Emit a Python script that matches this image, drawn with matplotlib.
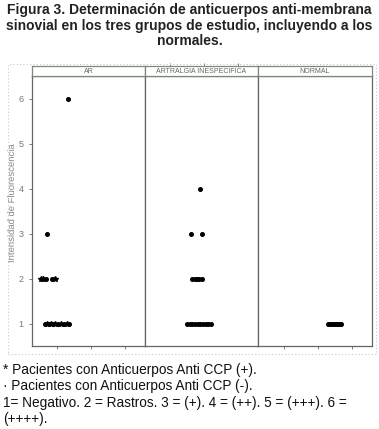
import numpy as np
import matplotlib.pyplot as plt
from matplotlib.patches import Rectangle

W, H = 379, 429

# grupos (paneles)
groups = ["AR", "ARTRALGIA INESPECIFICA", "NORMAL"]

# AR
ar_x = [1.32, 0.69, 0.52, 0.58, 0.67, 0.84, 0.93,
        0.64, 0.70, 0.76, 0.82, 0.88, 0.94, 1.03, 1.12, 1.21, 1.29, 1.35]
ar_y = [6, 3, 2, 2, 2, 2, 2,
        1, 1, 1, 1, 1, 1, 1, 1, 1, 1, 1]
ar_ccp = ["-", "-", "+", "+", "-", "-", "+",
          "-", "+", "-", "+", "-", "+", "-", "+", "-", "+", "-"]

# Artralgia inespecifica
art_x = [1.88, 1.61, 1.94, 1.64, 1.73, 1.79, 1.85, 1.94,
         1.49, 1.57, 1.65, 1.73, 1.81, 1.89, 1.97, 2.05, 2.13, 2.20]
art_y = [4, 3, 3, 2, 2, 2, 2, 2,
         1, 1, 1, 1, 1, 1, 1, 1, 1, 1]
art_ccp = ["-"] * len(art_x)

# Normales
nor_x = [2.30, 2.36, 2.42, 2.48, 2.54, 2.60, 2.65, 2.68]
nor_y = [1, 1, 1, 1, 1, 1, 1, 1]
nor_ccp = ["-"] * len(nor_x)

data = [(ar_x, ar_y, ar_ccp), (art_x, art_y, art_ccp), (nor_x, nor_y, nor_ccp)]

y_ticks = [1, 2, 3, 4, 5, 6]
x_ticks = [1, 2, 3]

plt.rcParams['font.family'] = ['Liberation Sans', 'DejaVu Sans']

fig = plt.figure(figsize=(W / 100, H / 100), dpi=100)


def rect(x0, y0, x1, y1):
    return [x0 / W, 1 - y1 / H, (x1 - x0) / W, (y1 - y0) / H]


# marco punteado exterior
fig.patches.append(Rectangle((8 / W, 1 - 354 / H), 368 / W, 290 / H,
                             transform=fig.transFigure, fill=False,
                             edgecolor="#c8c8c8", linestyle=(0, (1, 2)),
                             linewidth=0.8))

edges = [32, 145, 258, 372]
for i, (xs, ys, ccp) in enumerate(data):
    ax = fig.add_axes(rect(edges[i], 76, edges[i + 1], 346))
    for xv, yv, c in zip(xs, ys, ccp):
        if c == "+":
            ax.plot(xv, yv, marker="*", color="black", markersize=4, linestyle="none")
        else:
            ax.plot(xv, yv, marker="o", color="black", markersize=2.6, linestyle="none")
    ax.set_xlim(0.25, 3.6)
    ax.set_ylim(0.5, 6.5)
    for s in ax.spines.values():
        s.set_color("#666666")
        s.set_linewidth(0.9)
    ax.set_yticks(y_ticks)
    ax.set_xticks(x_ticks if i != 1 else [])
    ax.tick_params(colors="#666666", labelcolor="#777777", length=2.5,
                   width=0.6, labelsize=6.5)
    ax.set_xticklabels([])
    if i == 0:
        ax.set_ylabel("Intensidad de Fluorescencia", fontsize=6.8,
                      color="#888888")
        ax.yaxis.set_label_coords(-15 / 113, 0.53)
    else:
        ax.set_yticks([])

    # tira superior
    sax = fig.add_axes(rect(edges[i], 66, edges[i + 1], 76))
    sax.set_xlim(0.25, 3.6)
    sax.set_yticks([])
    if i == 1:
        sax.set_xticks(x_ticks)
        sax.xaxis.tick_top()
        sax.set_xticklabels([])
        sax.tick_params(colors="#666666", length=2.5, width=0.6)
    else:
        sax.set_xticks([])
    for s in sax.spines.values():
        s.set_color("#7a8a7a")
        s.set_linewidth(0.9)
    sax.text(0.5, 0.45, groups[i], ha="center", va="center", fontsize=5,
             color="#666666", transform=sax.transAxes)

title = ("Figura 3. Determinación de anticuerpos anti-membrana\n"
         "sinovial en los tres grupos de estudio, incluyendo a los\n"
         "normales.")
fig.text(0.5, 1 - 3 / H, title, ha="center", va="top", fontsize=10,
         fontweight="bold", color="#222222", linespacing=1.15)

notes = ["* Pacientes con Anticuerpos Anti CCP (+).",
         "· Pacientes con Anticuerpos Anti CCP (-).",
         "1= Negativo. 2 = Rastros. 3 = (+). 4 = (++). 5 = (+++). 6 =",
         "(++++)."]
for k, line in enumerate(notes):
    fig.text(3 / W, 1 - (370 + 16.3 * k) / H, line, ha="left", va="center",
             fontsize=9.8, color="#111111")

fig.savefig("out.png", dpi=100)
